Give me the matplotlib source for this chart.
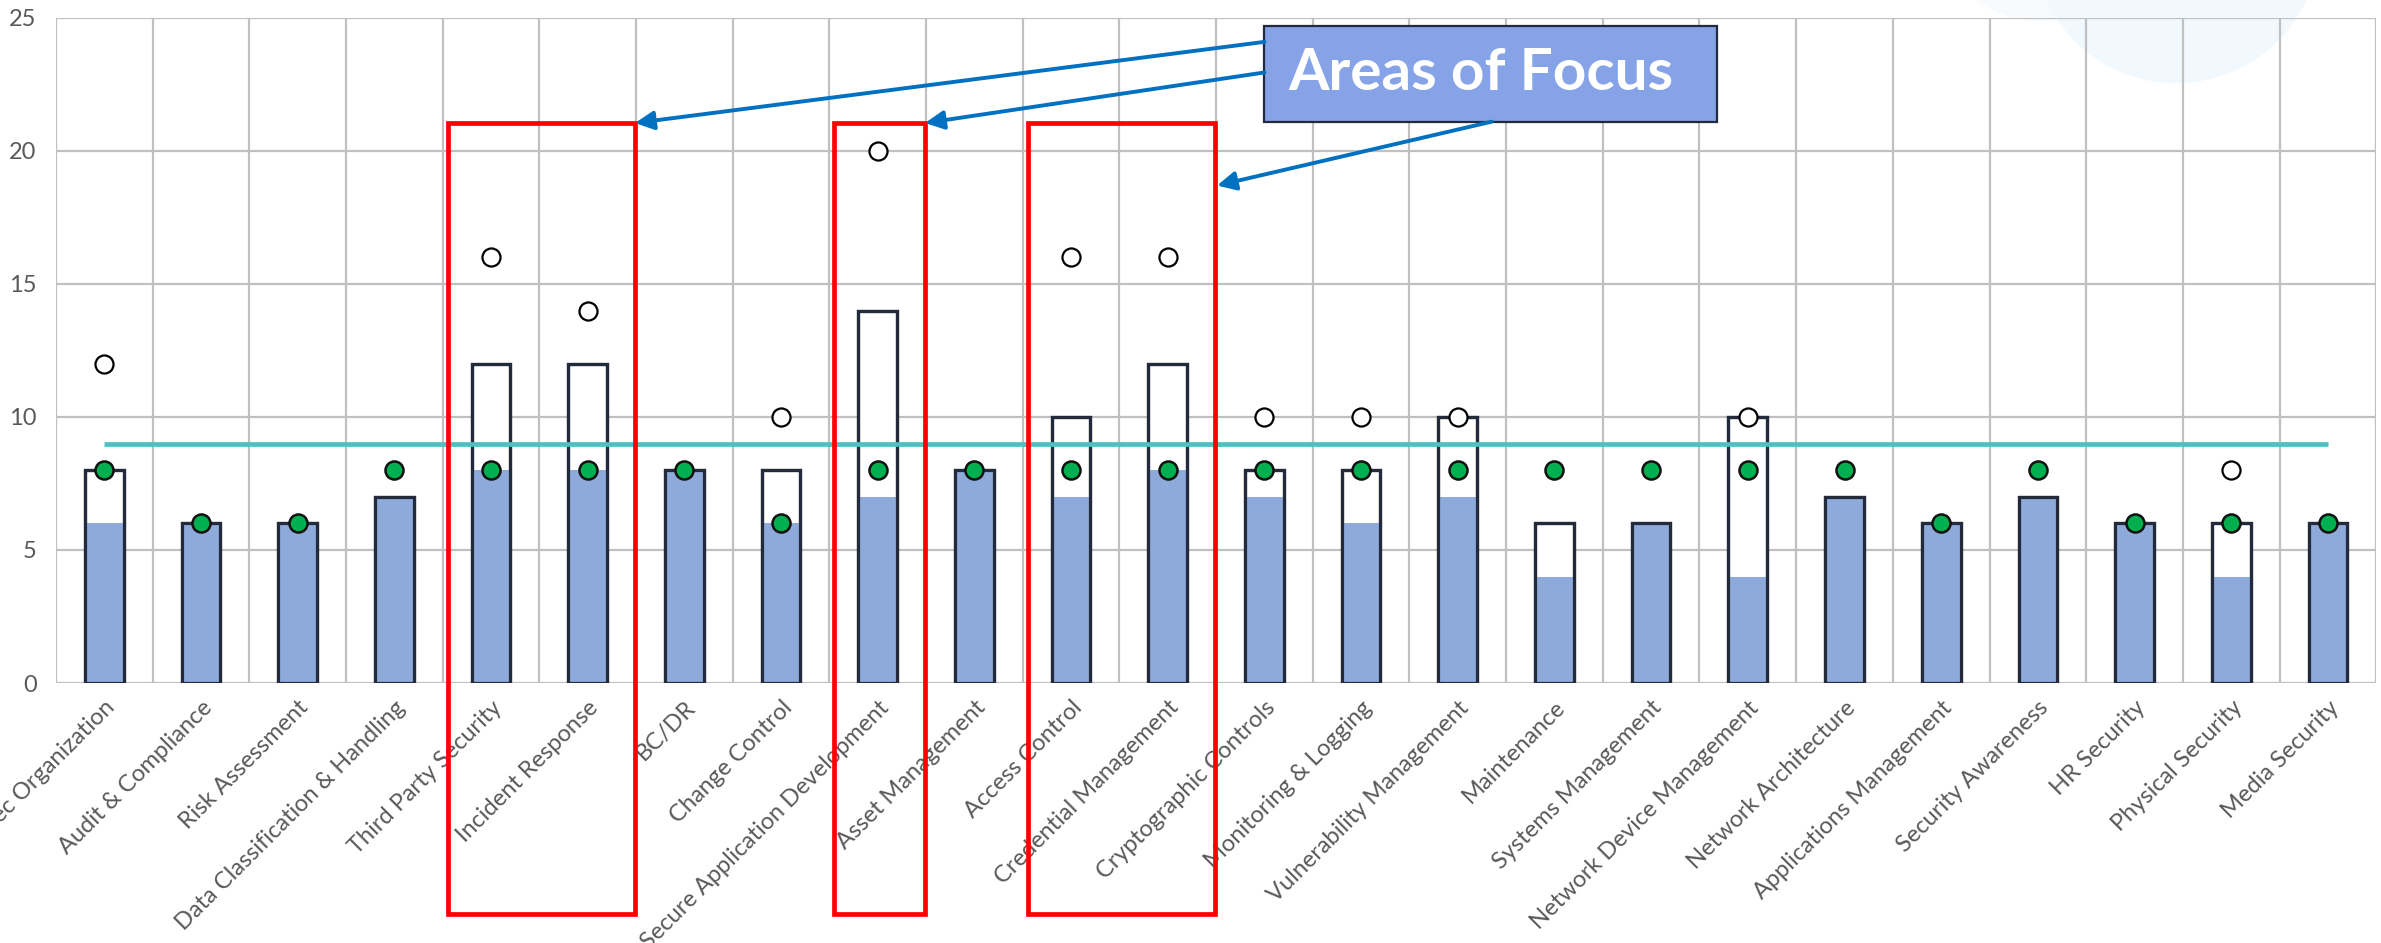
import numpy as np
import matplotlib
matplotlib.use('Agg')
import matplotlib.pyplot as plt
import matplotlib.patches as mpatches

plt.rcParams['font.family'] = ['Lato', 'DejaVu Sans']

categories = ['InfoSec Organization', 'Audit & Compliance', 'Risk Assessment',
              'Data Classification & Handling', 'Third Party Security', 'Incident Response',
              'BC/DR', 'Change Control', 'Secure Application Development', 'Asset Management',
              'Access Control', 'Credential Management', 'Cryptographic Controls',
              'Monitoring & Logging', 'Vulnerability Management', 'Maintenance',
              'Systems Management', 'Network Device Management', 'Network Architecture',
              'Applications Management', 'Security Awareness', 'HR Security',
              'Physical Security', 'Media Security']

# outlined bar (target), blue fill (current), green dot, open circle
target = [8, 6, 6, 7, 12, 12, 8, 8, 14, 8, 10, 12, 8, 8, 10, 6, 6, 10, 7, 6, 7, 6, 6, 6]
current = [6, 6, 6, 7, 8, 8, 8, 6, 7, 8, 7, 8, 7, 6, 7, 4, 6, 4, 7, 6, 7, 6, 4, 6]
green_vals = [8, 6, 6, 8, 8, 8, 8, 6, 8, 8, 8, 8, 8, 8, 8, 8, 8, 8, 8, 6, 8, 6, 6, 6]
nan = np.nan
open_vals = [12, nan, nan, nan, 16, 14, nan, 10, 20, nan, 16, 16, 10, 10, 10,
             nan, nan, 10, nan, nan, nan, nan, 8, nan]
benchmark = 9

# groups of categories highlighted as areas of focus (first, last index)
focus_groups = [(4, 5), (8, 8), (10, 11)]
focus_label = 'Areas of Focus'

navy = '#222a3c'
x = np.arange(len(categories))

fig = plt.figure(figsize=(23.81, 9.43), dpi=100)
ax = fig.add_axes([0.0235, 0.2757, 0.9745, 0.7053])
ax.set_facecolor('none')

# faint watermark shapes at top right
ax.add_patch(mpatches.Ellipse((0.857, 1.095), 0.092, 0.233, transform=fig.transFigure,
                              color='#f8fbfe', zorder=0.1, clip_on=False))
ax.add_patch(mpatches.Ellipse((0.914, 1.064), 0.120, 0.303, transform=fig.transFigure,
                              color='#f1f8fe', zorder=0.2, clip_on=False))

w = 0.4
ax.bar(x, target, width=w, color='white', edgecolor=navy, linewidth=2.3, zorder=2)
ax.bar(x, current, width=w, color='#8eaadb', linewidth=0, zorder=3)
ax.bar(x, target, width=w, color='none', edgecolor=navy, linewidth=2.3, zorder=4)

ax.plot(x, [benchmark] * len(x), color='#4dc0c1', lw=3.4, zorder=5, solid_capstyle='butt')

ax.plot(x, open_vals, 'o', ms=13, mfc='white', mec='black', mew=1.6, zorder=6)
ax.plot(x, green_vals, 'o', ms=13, mfc='#00b050', mec='#111111', mew=1.8, zorder=7)

ax.set_xlim(-0.5, len(categories) - 0.5)
ax.set_ylim(0, 25)
ax.set_yticks(range(0, 26, 5))
ax.set_xticks(x)
ax.set_xticklabels(categories, rotation=45, ha='right', rotation_mode='anchor')
ax.set_xticks(np.arange(-0.5, len(categories), 1), minor=True)
ax.tick_params(axis='both', which='both', length=0, labelsize=17, labelcolor='#595959')
ax.tick_params(axis='x', pad=10)
ax.tick_params(axis='y', pad=14)
ax.set_axisbelow(True)
ax.grid(axis='y', color='#c0c0c0', lw=1.6)
ax.grid(axis='x', which='minor', color='#c0c0c0', lw=1.6)
ax.grid(axis='x', which='major', visible=False)
for s in ax.spines.values():
    s.set_visible(False)

# red boxes around focus areas
top_y, bot_y = 21.05, -8.7
for a, b in focus_groups:
    ax.add_patch(mpatches.Rectangle((a - 0.45, bot_y), (b - a) + 0.94, top_y - bot_y,
                                    fill=False, edgecolor='#ff0000', lw=3.4,
                                    zorder=8, clip_on=False))

# label box
bx0, bx1, by0, by1 = 12.0, 16.68, 21.1, 24.7
ax.add_patch(mpatches.Rectangle((bx0, by0), bx1 - bx0, by1 - by0, facecolor='#85a3e6',
                                edgecolor=navy, lw=1.6, zorder=9, clip_on=False))
ax.text(bx0 + 0.25, (by0 + by1) / 2, focus_label, color='white', fontsize=42,
        fontweight='bold', va='center', ha='left', zorder=10)

arrow = dict(arrowstyle='-|>', color='#0070c0', lw=2.8, mutation_scale=28,
             shrinkA=0, shrinkB=0)
starts = [(bx0, 24.1), (bx0, 22.95), (14.35, by0)]
ends = [(5.49, top_y), (8.49, top_y), (11.51, 18.7)]
for s, e in zip(starts, ends):
    ax.annotate('', xy=e, xytext=s, arrowprops=arrow, zorder=9, annotation_clip=False)

fig.savefig('out.png', dpi=100)
